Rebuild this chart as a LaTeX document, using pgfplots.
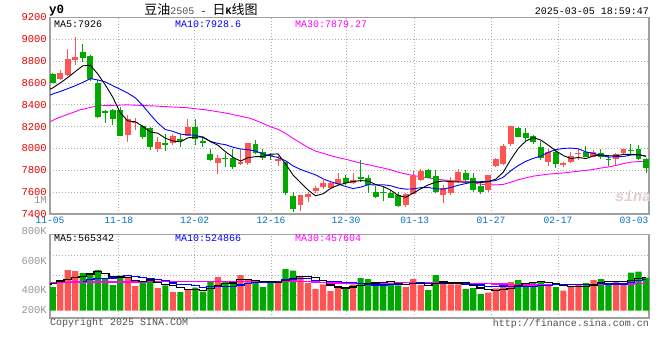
\documentclass[border=0pt]{standalone}
\usepackage{pgfplots}
\pgfplotsset{compat=1.18}
\usepackage{pgfplotstable}
\usepackage{fontspec}
\setmainfont{Liberation Mono}
\newfontfamily\cjk{Noto Sans CJK SC}
\definecolor{cR}{RGB}{255,84,84}
\definecolor{cG}{RGB}{0,168,0}
\definecolor{tickR}{RGB}{230,0,0}
\definecolor{tickB}{RGB}{0,112,192}
\definecolor{bord}{RGB}{160,160,160}
\definecolor{gridc}{RGB}{175,175,175}
\definecolor{maB}{RGB}{0,0,255}
\definecolor{maM}{RGB}{255,0,255}
\definecolor{vlab}{RGB}{150,150,150}
\definecolor{copyc}{RGB}{80,80,80}
\definecolor{wmark}{RGB}{228,205,205}

% up (red) candles: index, open, high, low, close, volume (K)
\pgfplotstableread{
i o h l c v
1 8634 8720 8628 8689 518
2 8674 8908 8667 8820 710
3 8811 9024 8765 8841 692
10 8125 8305 8064 8268 593
11 8234 8283 8170 8244 430
14 8000 8109 7972 8061 396
16 8054 8134 8033 8119 326
18 8116 8274 8110 8201 378
22 7865 7941 7764 7911 588
25 7856 7993 7850 7880 622
26 7871 8048 7850 8048 541
30 7889 7932 7841 7901 500
33 7484 7575 7432 7575 588
34 7560 7597 7514 7584 483
35 7615 7658 7591 7642 378
36 7645 7713 7633 7682 460
37 7639 7697 7633 7688 343
38 7676 7780 7658 7722 413
40 7682 7773 7676 7712 460
47 7484 7590 7462 7581 413
48 7581 7798 7581 7749 553
49 7712 7810 7706 7798 448
52 7575 7667 7499 7636 518
53 7590 7743 7575 7712 460
54 7697 7810 7682 7789 460
58 7621 7758 7606 7758 314
59 7841 7910 7835 7902 390
60 7859 8039 7850 8027 477
61 8039 8207 8024 8207 500
66 7880 7993 7841 7972 448
68 7850 7880 7828 7871 349
69 7880 7972 7871 7932 413
70 7947 7993 7896 7957 465
72 7926 7987 7920 7972 535
75 7902 7963 7850 7950 518
76 7963 7993 7941 7993 448
}\upT

% down (green) candles
\pgfplotstableread{
i o h l c v
0 8680 8695 8597 8604 413
4 8884 8957 8796 8832 657
5 8847 8857 8622 8634 622
6 8597 8628 8280 8286 710
7 8344 8353 8237 8323 553
8 8353 8366 8216 8274 448
9 8353 8378 8110 8116 611
12 8207 8216 8085 8109 500
13 8192 8201 7987 8018 541
15 8048 8134 7981 8036 442
17 8088 8134 8018 8073 326
19 8200 8274 8030 8090 401
20 8069 8094 8011 8054 332
21 7947 7993 7886 7895 518
23 7917 7963 7835 7905 500
24 7911 7993 7816 7835 483
27 8039 8078 7950 7957 500
28 7972 7999 7896 7917 413
29 7941 7956 7896 7932 494
31 7874 7880 7575 7590 727
32 7566 7597 7414 7444 698
39 7728 7758 7667 7688 384
41 7737 7896 7697 7722 570
42 7728 7758 7590 7667 553
43 7606 7652 7545 7560 442
44 7606 7645 7520 7597 471
45 7590 7621 7545 7551 489
46 7575 7606 7462 7475 442
50 7804 7810 7728 7728 361
51 7749 7804 7590 7606 622
55 7780 7804 7706 7712 378
56 7728 7773 7606 7621 396
57 7652 7682 7584 7606 291
62 8191 8201 8103 8109 535
63 8140 8185 8063 8094 465
64 8115 8124 8039 8063 500
65 8018 8069 7896 7911 518
67 7972 7987 7819 7856 413
71 7972 8024 7920 7926 483
73 7957 7993 7902 7920 553
74 7902 7941 7841 7893 477
77 7987 8039 7941 7978 663
78 7996 8033 7896 7902 681
79 7902 7911 7773 7819 576
}\dnT

% price moving averages
\pgfplotstableread{
i m
-0.36 8543
0 8555
1 8600
2 8650
3 8705
4 8757
5 8763
6 8683
7 8583
8 8470
9 8327
10 8253
11 8245
12 8202
13 8151
14 8140
15 8094
16 8069
17 8061
18 8098
19 8104
20 8107
21 8063
22 8030
23 7971
24 7920
25 7885
26 7916
27 7925
28 7927
29 7947
30 7951
31 7859
32 7757
33 7688
34 7619
35 7567
36 7585
37 7634
38 7664
39 7684
40 7698
41 7706
42 7702
43 7670
44 7652
45 7619
46 7570
47 7553
48 7591
49 7631
50 7666
51 7692
52 7703
53 7696
54 7694
55 7691
56 7694
57 7688
58 7697
59 7720
60 7783
61 7900
62 8001
63 8068
64 8100
65 8077
66 8030
67 7979
68 7935
69 7908
70 7918
71 7908
72 7932
73 7941
74 7934
75 7933
76 7946
77 7947
78 7944
79 7928
}\maFive

\pgfplotstableread{
i m
-0.36 8488
0 8500
1 8522
2 8548
3 8575
4 8605
5 8640
6 8628
7 8610
8 8575
9 8542
10 8508
11 8464
12 8393
13 8310
14 8233
15 8174
16 8157
17 8132
18 8125
19 8122
20 8101
21 8066
22 8046
23 8035
24 8012
25 7996
26 7989
27 7978
28 7949
29 7933
30 7918
31 7888
32 7841
33 7808
34 7783
35 7759
36 7722
37 7696
38 7676
39 7652
40 7633
41 7646
42 7668
43 7667
44 7668
45 7659
46 7638
47 7628
48 7630
49 7641
50 7643
51 7631
52 7628
53 7643
54 7663
55 7679
56 7693
57 7696
58 7697
59 7707
60 7737
61 7797
62 7844
63 7883
64 7910
65 7930
66 7965
67 7990
68 8001
69 8004
70 7997
71 7969
72 7955
73 7938
74 7921
75 7925
76 7927
77 7940
78 7943
79 7931
}\maTen

\pgfplotstableread{
i m
-0.36 8245
0.53 8275
3.6 8353
5.9 8390
9.85 8400
13.4 8390
15.2 8383
17.8 8374
20.5 8353
23.2 8323
26.3 8277
28 8230
29 8199
30 8176
31 8139
32 8093
33 8051
34 8009
35 7976
36 7956
37 7935
38 7917
39 7902
40 7884
41 7866
42 7852
43 7836
44 7821
45 7805
46 7783
47 7767
48 7752
49 7742
50 7731
51 7722
52 7712
53 7706
54 7704
55 7699
56 7685
57 7673
58 7668
59 7667
60 7671
61 7691
62 7714
63 7731
64 7747
65 7756
66 7765
67 7771
68 7776
69 7784
70 7792
71 7799
72 7809
73 7821
74 7831
75 7845
76 7862
77 7875
78 7880
79 7881
}\maThirty

% volume moving averages (K)
\pgfplotstableread{
i m
-0.36 465
0 477
1 518
2 547
3 576
4 598
5 640
6 678
7 647
8 598
9 589
10 583
11 527
12 516
13 535
14 492
15 462
16 441
17 406
18 374
19 375
20 353
21 391
22 443
23 468
24 484
25 542
26 547
27 529
28 512
29 514
30 490
31 527
32 566
33 601
34 599
35 575
36 521
37 450
38 415
39 396
40 412
41 434
42 476
43 482
44 499
45 505
46 479
47 451
48 474
49 469
50 443
51 479
52 500
53 482
54 484
55 488
56 442
57 397
58 368
59 354
60 374
61 394
62 443
63 473
64 495
65 504
66 493
67 469
68 446
69 428
70 418
71 425
72 449
73 490
74 503
75 513
76 506
77 532
78 557
79 577
}\vmaFive

\pgfplotstableread{
i m
4 506
5 547
6 564
7 564
8 570
9 593
10 611
11 603
12 582
13 567
14 540
15 522
16 484
17 461
18 454
19 433
20 407
21 416
22 425
23 421
24 429
25 447
26 469
27 486
28 490
29 499
30 516
31 537
32 548
33 557
34 557
35 532
36 524
37 508
38 508
39 497
40 493
41 478
42 463
43 449
44 447
45 459
46 457
47 464
48 478
49 484
50 474
51 479
52 476
53 478
54 477
55 466
56 461
57 449
58 425
59 419
60 431
61 418
62 420
63 421
64 425
65 439
66 444
67 456
68 460
69 462
70 461
71 459
72 459
73 468
74 465
75 465
76 465
77 490
78 524
79 540
}\vmaTen

\pgfplotstableread{
i m
-0.36 497
5 500
10 502
15 505
20 505
25 505
28 507
29 509
30 512
31 518
32 518
33 515
34 509
35 501
36 492
37 485
38 484
39 477
40 472
41 477
42 479
43 475
44 478
45 479
46 483
47 486
48 492
49 494
50 495
51 498
52 496
53 494
54 494
55 485
56 481
57 474
58 470
59 467
60 466
61 459
62 453
63 449
64 450
65 454
66 454
67 456
68 454
69 455
70 455
71 452
72 452
73 455
74 456
75 457
76 457
77 465
78 469
79 474
}\vmaThirty

\pgfplotsset{
  skchart/.style={
    scale only axis, anchor=south west,
    xmin=-0.36, xmax=79.4,
    axis line style={draw=bord, line width=1.2pt},
    major tick length=0pt,
    grid=major,
    grid style={draw=gridc, line width=0.9pt, dash pattern=on 1pt off 2pt},
    /pgf/number format/assume math mode=true,
    /pgf/number format/1000 sep={},
  },
  wick/.style={draw=none, mark=none, forget plot,
    error bars/.cd, y dir=plus, y explicit, error mark=none,
    error bar style={draw=#1, line width=1pt, solid}},
  body/.style={draw=none, mark=none, forget plot,
    error bars/.cd, y dir=plus, y explicit, error mark=none,
    error bar style={draw=#1, line width=5.9pt, solid}},
}

\begin{document}
\begin{tikzpicture}[x=1pt,y=1pt]
\path (0,0) rectangle (660,360);

% ---------- price panel ----------
\begin{axis}[skchart,
  at={(50pt,146pt)}, width=599pt, height=196.5pt,
  ymin=7400, ymax=9200,
  ytick={7400,7600,...,9200},
  yticklabel style={font=\fontsize{10.5}{12}\selectfont, text=tickR, anchor=east, inner sep=0pt, xshift=-3pt},
  xtick={-0.36,8.8,18.9,29.07,39.05,48.2,58.36,67.28},
  xticklabels={11-05,11-18,12-02,12-16,12-30,01-13,01-27,02-17},
  extra x ticks={77.4}, extra x tick labels={03-03},
  extra x tick style={grid=none},
  xticklabel style={font=\fontsize{9.6}{11}\selectfont, text=tickB, anchor=north, inner sep=0pt, yshift=-2.5pt},
]
\addplot[maM, line width=0.9pt] table[x=i,y=m] {\maThirty};
\addplot[wick=cR] table[x=i, y=l, y error plus expr=\thisrow{h}-\thisrow{l}] {\upT};
\addplot[body=cR] table[x=i, y=o, y error plus expr=\thisrow{c}-\thisrow{o}] {\upT};
\addplot[wick=cG] table[x=i, y=l, y error plus expr=\thisrow{h}-\thisrow{l}] {\dnT};
\addplot[body=cG] table[x=i, y=c, y error plus expr=\thisrow{o}-\thisrow{c}] {\dnT};
\addplot[maB, line width=0.9pt] table[x=i,y=m] {\maTen};
\addplot[black, line width=0.9pt] table[x=i,y=m] {\maFive};
\end{axis}

% ---------- volume panel ----------
\begin{axis}[skchart,
  at={(50pt,42pt)}, width=599pt, height=83.3pt,
  ymin=-127.4, ymax=1326.4,
  ytick={269,618,967}, yticklabels={},
  xtick={8.8,18.9,29.07,39.05,48.2,58.36,67.28}, xticklabels={},
]
\addplot[ybar, bar width=6.2pt, bar shift=0pt, fill=cR, draw=none] table[x=i,y=v] {\upT};
\addplot[ybar, bar width=6.2pt, bar shift=0pt, fill=cG, draw=none] table[x=i,y=v] {\dnT};
\addplot[maM, line width=1.2pt, const plot mark mid] table[x=i,y=m] {\vmaThirty};
\addplot[maB, line width=1.2pt, const plot mark mid] table[x=i,y=m] {\vmaTen};
\addplot[black, line width=1.2pt, const plot mark mid] table[x=i,y=m] {\vmaFive};
\end{axis}

% ---------- texts ----------
\node[anchor=west, inner sep=0pt, font=\bfseries\fontsize{12.5}{14}\selectfont] at (49,349) {y0};
\node[inner sep=0pt, font=\fontsize{10}{12}\selectfont] at (201,350)
  {{\cjk\fontsize{13}{14}\selectfont 豆油}{\color{copyc}2505} - {\cjk\fontsize{13}{14}\selectfont 日}{\bfseries K}{\cjk\fontsize{13}{14}\selectfont 线图}};
\node[anchor=east, inner sep=0pt, font=\fontsize{10}{12}\selectfont] at (649,348.3) {2025-03-05 18:59:47};

\node[anchor=west, inner sep=0pt, font=\fontsize{10}{12}\selectfont] at (54,336) {MA5:7926};
\node[anchor=west, inner sep=0pt, font=\fontsize{10}{12}\selectfont, text=maB] at (175,336) {MA10:7928.6};
\node[anchor=west, inner sep=0pt, font=\fontsize{10}{12}\selectfont, text=maM] at (295,336) {MA30:7879.27};

\node[anchor=west, inner sep=0pt, font=\fontsize{10}{12}\selectfont] at (54,121.5) {MA5:565342};
\node[anchor=west, inner sep=0pt, font=\fontsize{10}{12}\selectfont, text=maB] at (175,121.5) {MA10:524866};
\node[anchor=west, inner sep=0pt, font=\fontsize{10}{12}\selectfont, text=maM] at (295,121.5) {MA30:457604};

\node[anchor=east, inner sep=0pt, font=\fontsize{10.5}{12}\selectfont, text=vlab] at (47,160) {1M};
\node[anchor=east, inner sep=0pt, font=\fontsize{10.5}{12}\selectfont, text=vlab] at (47,129) {800K};
\node[anchor=east, inner sep=0pt, font=\fontsize{10.5}{12}\selectfont, text=vlab] at (47,99.3) {600K};
\node[anchor=east, inner sep=0pt, font=\fontsize{10.5}{12}\selectfont, text=vlab] at (47,69.7) {400K};
\node[anchor=east, inner sep=0pt, font=\fontsize{10.5}{12}\selectfont, text=vlab] at (47,49.7) {200K};

\node[anchor=west, inner sep=0pt, font=\fontsize{10}{12}\selectfont, text=copyc] at (50,36.7) {Copyright 2025 SINA.COM};
\node[anchor=east, inner sep=0pt, font=\fontsize{10}{12}\selectfont, text=copyc] at (649,36) {http://finance.sina.com.cn};

\node[inner sep=0pt, font=\bfseries\itshape\fontsize{15}{16}\selectfont, text=wmark] at (633,164) {sina};
\end{tikzpicture}
\end{document}
